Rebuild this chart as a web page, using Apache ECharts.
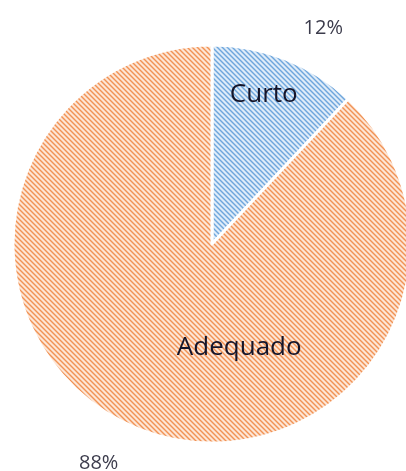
<!DOCTYPE html>
<html>
<head>
<meta charset="utf-8">
<script src="https://cdn.jsdelivr.net/npm/echarts@6/dist/echarts.min.js"></script>
<style>
  html, body { margin: 0; padding: 0; background: #fff; }
  #chart { width: 406px; height: 471px; }
</style>
</head>
<body>
<div id="chart"></div>
<script>
var categories = ['Curto', 'Adequado'];
var values = [12, 88];

// hatched fill like the excel pattern
function hatch(bg, fg) {
  var s = 5;
  var c = document.createElement('canvas');
  c.width = s; c.height = s;
  var ctx = c.getContext('2d');
  ctx.fillStyle = bg;
  ctx.fillRect(0, 0, s, s);
  ctx.strokeStyle = fg;
  ctx.lineWidth = 1.4;
  for (var k = -1; k <= 1; k++) {
    ctx.beginPath();
    ctx.moveTo(-1, -1 + k * s);
    ctx.lineTo(s + 1, s + 1 + k * s);
    ctx.stroke();
  }
  return { image: c, repeat: 'repeat' };
}

var fills = [hatch('#dfecf9', '#6ea5dc'), hatch('#fde6d6', '#f19254')];

var data = categories.map(function (n, i) {
  return { name: n, value: values[i], itemStyle: { color: fills[i] } };
});

var chart = echarts.init(document.getElementById('chart'));
chart.setOption({
  animation: false,
  series: [
    {
      type: 'pie',
      center: [212, 244],
      radius: 199,
      startAngle: 90,
      itemStyle: { borderColor: '#fff', borderWidth: 3 },
      label: {
        position: 'inside',
        formatter: '{b}',
        color: '#15152a',
        fontSize: 26,
        fontFamily: 'Open Sans'
      },
      labelLayout: function (p) {
        return p.dataIndex === 0 ? { dx: 14, dy: -54 } : { dx: 65, dy: 8 };
      },
      emphasis: { disabled: true },
      data: data
    },
    {
      type: 'pie',
      center: [212, 244],
      radius: 199,
      startAngle: 90,
      silent: true,
      itemStyle: { color: 'transparent' },
      label: {
        position: 'outside',
        formatter: '{d}%',
        color: '#3c3c4c',
        fontSize: 20,
        fontFamily: 'Open Sans'
      },
      labelLayout: function (p) {
        return p.dataIndex === 0 ? { dx: 6, dy: -12 } : { dx: -8, dy: 16 };
      },
      labelLine: { show: false, length: 20, length2: 0 },
      data: categories.map(function (n, i) { return { name: n, value: values[i] }; })
    }
  ]
});
</script>
</body>
</html>
